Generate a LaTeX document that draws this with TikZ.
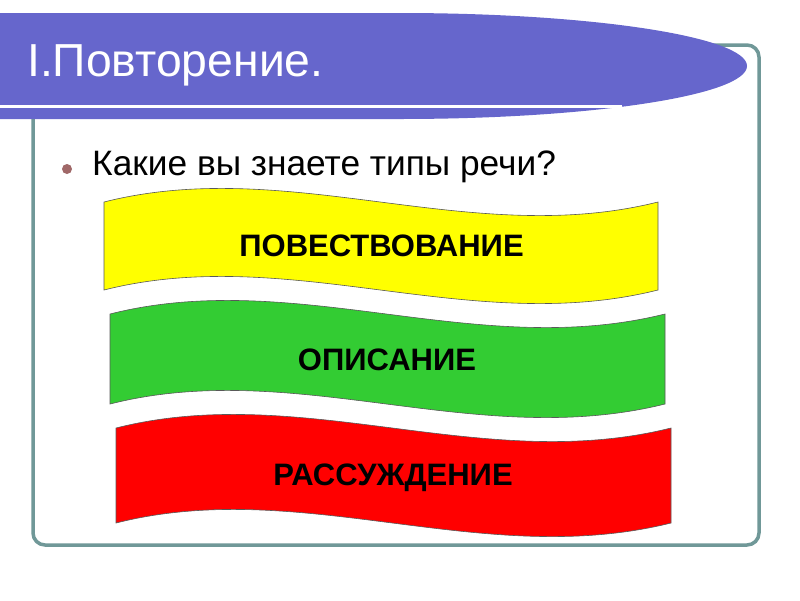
\documentclass[tikz,border=0pt]{standalone}
\usepackage{fontspec}
\setmainfont{Liberation Sans}
\definecolor{banner}{RGB}{102,102,204}
\definecolor{frameC}{RGB}{112,152,152}
\definecolor{bulletC}{RGB}{160,104,104}
\definecolor{yel}{RGB}{255,255,0}
\definecolor{grn}{RGB}{51,204,51}
\definecolor{rd}{RGB}{255,0,0}
\tikzset{
  wavebox/.style={draw=black!65, line width=0.6pt},
  wavetext/.style={font=\fontsize{31}{36}\selectfont\bfseries, text=black, inner sep=0pt},
}
\begin{document}
\begin{tikzpicture}[x=1pt,y=-1pt]
\useasboundingbox (0,0) rectangle (800,600);
\fill[white] (0,0) rectangle (800,600);
% frame
\draw[frameC, line width=3.5pt, rounded corners=12pt] (33,45) rectangle (759,545);
% title banner
\fill[banner] (0,13) -- (400,13) arc[start angle=-90, end angle=90, x radius=347, y radius=53] -- (0,119) -- cycle;
\draw[white, line width=3pt] (0,106.5) -- (622,106.5);
\node[anchor=base west, text=white, inner sep=0pt, font=\fontsize{46.3}{54}\selectfont] (title) at (27,76) {I.Повторение.};
% bullet
\fill[bulletC] (67,169) circle (5);
\node[anchor=base west, inner sep=0pt, font=\fontsize{35.3}{42}\selectfont] (question) at (92,175) {Какие вы знаете типы речи?};
% yellow wave
\draw[wavebox, fill=yel] (104,202) .. controls (290,155) and (470,249) .. (658,202) -- (658,290) .. controls (470,337) and (290,243) .. (104,290) -- cycle;
\node[wavetext] (t1) at (381.5,246) {ПОВЕСТВОВАНИЕ};
% green wave
\draw[wavebox, fill=grn] (110,314) .. controls (296,267) and (476,361) .. (665,314) -- (665,404) .. controls (476,451) and (296,357) .. (110,404) -- cycle;
\node[wavetext] (t2) at (387,360) {ОПИСАНИЕ};
% red wave
\draw[wavebox, fill=rd] (116,428) .. controls (302,381) and (482,475) .. (671,428) -- (671,523) .. controls (482,570) and (302,476) .. (116,523) -- cycle;
\node[wavetext] (t3) at (393,478) {РАССУЖДЕНИЕ};
\end{tikzpicture}
\end{document}
